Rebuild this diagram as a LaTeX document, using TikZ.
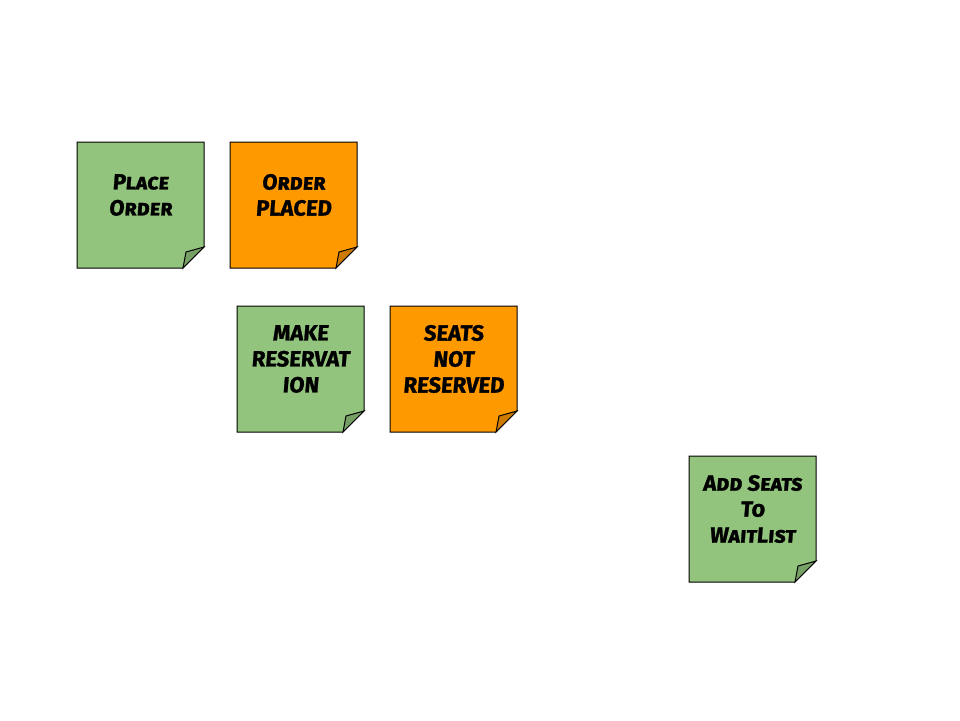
\documentclass[tikz,border=0pt]{standalone}
\usepackage{fontspec}
\setmainfont{Fira Sans}[BoldFont={* Bold}, BoldFeatures={FakeBold=1.2, FakeSlant=0.08}]
\definecolor{notegreen}{HTML}{93C47D}
\definecolor{foldgreen}{HTML}{76A064}
\definecolor{noteorange}{HTML}{FF9900}
\definecolor{foldorange}{HTML}{CC7A00}
\tikzset{
  notebody/.style={draw=black, line width=1pt, line join=miter},
  notetext/.style={align=center, font=\fontsize{22}{26}\selectfont\bfseries\scshape, inner sep=0pt, text=black},
}
% #1 name, #2 x0, #3 y0, #4 fill, #5 fold fill, #6 text
\newcommand\stickynote[6]{%
  \path[notebody, fill=#4] (#2,#3) -- ++(127,0) -- ++(0,105) -- ++(-21,21) -- ++(-106,0) -- cycle;
  \path[notebody, fill=#5] (#2+127,#3+105) -- (#2+109,#3+110) -- (#2+106,#3+126) -- cycle;
  \node[notetext] (#1) at (#2+63.5,#3+53) {#6};
}
\begin{document}
\begin{tikzpicture}[x=1pt,y=-1pt]
\useasboundingbox (0,0) rectangle (960,720);
\stickynote{placeorder}{77}{142}{notegreen}{foldgreen}{Place\\Order}
\stickynote{orderplaced}{230}{142}{noteorange}{foldorange}{Order\\PLACED}
\stickynote{makeres}{237}{306}{notegreen}{foldgreen}{MAKE\\RESERVAT\\ION}
\stickynote{seatsnot}{390}{306}{noteorange}{foldorange}{SEATS\\NOT\\RESERVED}
\stickynote{waitlist}{689}{456}{notegreen}{foldgreen}{Add Seats\\To\\WaitList}
\end{tikzpicture}
\end{document}
